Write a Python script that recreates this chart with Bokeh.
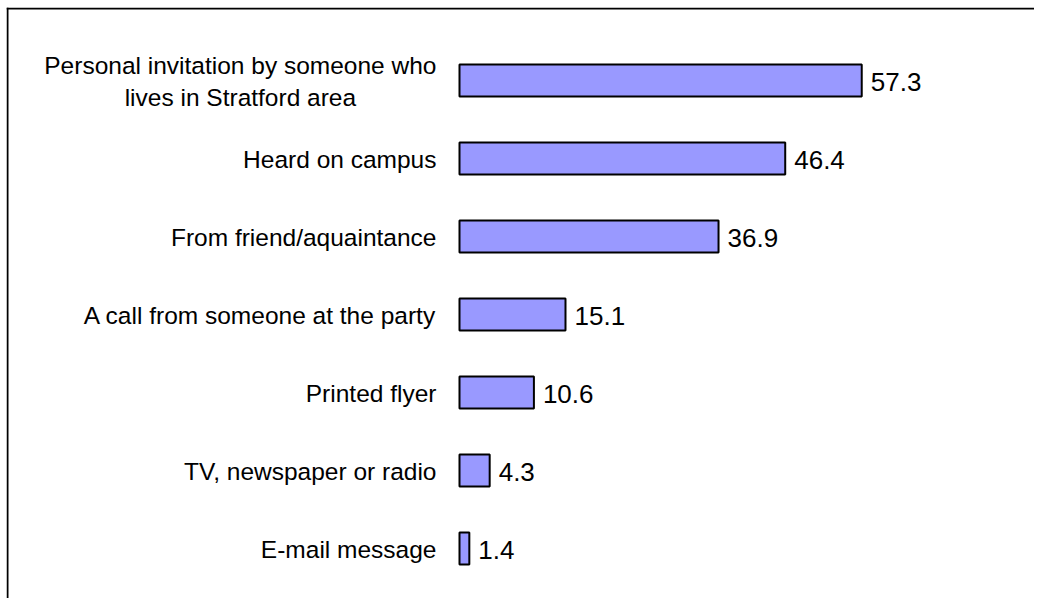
from bokeh.plotting import figure
from bokeh.models import Range1d, Span, ColumnDataSource
from bokeh.core.properties import value
from bokeh.embed import file_html
from bokeh.resources import INLINE

categories = [
    "Personal invitation by someone who\nlives in Stratford area",
    "Heard on campus",
    "From friend/aquaintance",
    "A call from someone at the party",
    "Printed flyer",
    "TV, newspaper or radio",
    "E-mail message",
]
percents = [57.3, 46.4, 36.9, 15.1, 10.6, 4.3, 1.4]
value_labels = [f"{v:.1f}" for v in percents]
rows = list(range(len(categories)))

src = ColumnDataSource(dict(row=rows, cat=categories, pct=percents, lbl=value_labels))

PX_PER_X, PX_PER_ROW = 7.02, 78.0
X0, X1 = -64.53, 81.91
Y_BOTTOM, Y_TOP = 6.641, -0.936

p = figure(width=1034, height=598, output_backend="svg", toolbar_location=None,
           x_range=Range1d(X0, X1), y_range=Range1d(Y_BOTTOM, Y_TOP),
           x_axis_location=None, y_axis_location=None,
           min_border_left=6, min_border_top=7, min_border_right=0, min_border_bottom=0)
p.grid.visible = False
p.outline_line_color = None
p.background_fill_color = "white"
p.border_fill_color = "white"

p.hbar(y="row", left=0, right="pct", height=0.41, source=src,
       fill_color="#9999FF", line_color="black", line_width=2)

p.text(x=0, y="row", text="cat", source=src, x_offset=-23, y_offset=1,
       anchor="center_right", text_align="center", text_baseline="middle",
       text_font=value("Liberation Sans"), text_font_size="24.5px",
       text_line_height=1.22, text_color="black")

p.text(x="pct", y="row", text="lbl", source=src, x_offset=9, y_offset=1,
       text_align="left", text_baseline="middle",
       text_font=value("Liberation Sans"), text_font_size="26px",
       text_color="black")

# chart frame border (left and top edges visible in the reference)
p.add_layout(Span(location=X0 + 1.0 / PX_PER_X, dimension="height",
                  line_color="black", line_width=2))
p.add_layout(Span(location=Y_TOP + 1.0 / PX_PER_ROW, dimension="width",
                  line_color="black", line_width=2))

open("out.html", "w").write(file_html(p, INLINE))
